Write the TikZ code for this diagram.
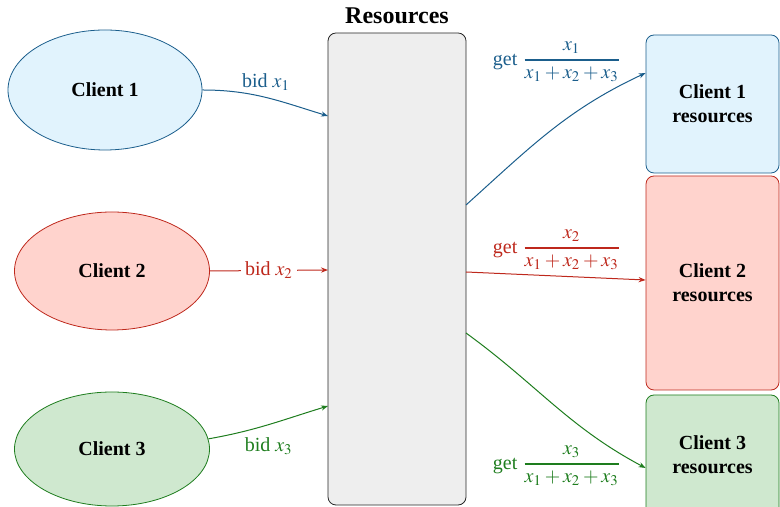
\documentclass[tikz,border=0pt]{standalone}
\usepackage{amsmath}
\usepackage{mathptmx}
\usepackage{fontspec}
\setmainfont{Liberation Serif}
\usetikzlibrary{arrows.meta,shapes.geometric}

\definecolor{blueline}{RGB}{27,94,140}
\definecolor{bluefill}{RGB}{225,243,253}
\definecolor{redline}{RGB}{190,40,28}
\definecolor{redfill}{RGB}{255,211,205}
\definecolor{greenline}{RGB}{30,125,30}
\definecolor{greenfill}{RGB}{207,232,207}
\definecolor{resfill}{RGB}{238,238,238}

\newcommand{\sharefrac}[1]{\genfrac{}{}{0.9pt}{0}{x_{#1}}{x_1+x_2+x_3}}

\begin{document}
\begin{tikzpicture}[x=0.5pt,y=0.5pt,
  client/.style={ellipse,draw=#1line,fill=#1fill,inner sep=0pt,font=\bfseries},
  share/.style={draw=#1line,fill=#1fill,rounded corners=4pt,minimum width=66.5pt,align=center,font=\bfseries},
  flow/.style={#1line,line width=0.5pt,-{Stealth[length=3.5pt,width=2.6pt]}}]
  \useasboundingbox (0,0) rectangle (780,507);
  \clip (0,0) rectangle (780,507);

  \node[client=blue,minimum width=97pt,minimum height=60pt] (c1) at (105,417) {Client 1};
  \node[client=red,minimum width=97.5pt,minimum height=59pt] (c2) at (112,236) {Client 2};
  \node[client=green,minimum width=97.5pt,minimum height=57pt] (c3) at (112,58) {Client 3};

  \node[draw=black!85,fill=resfill,rounded corners=4pt,minimum width=69pt,minimum height=236pt] (res) at (397,238) {};
  \node[font=\large\bfseries] (title) at (397,491) {Resources};

  \node[share=blue,minimum height=69pt] (r1) at (712.5,403) {Client 1\\resources};
  \node[share=red,minimum height=107pt] (r2) at (712.5,224) {Client 2\\resources};
  \node[share=green,minimum height=60pt] (r3) at (712.5,52) {Client 3\\resources};

  \coordinate (in1) at (328,391);
  \coordinate (in2) at (328,237);
  \coordinate (in3) at (328,101);
  \coordinate (out1) at (466,302);
  \coordinate (out2) at (466,235);
  \coordinate (out3) at (466,174);

  \draw[flow=blue] (c1.east) to[out=0,in=163] node[above] {bid $x_1$} (in1);
  \draw[flow=red] (c2.east) -- node[fill=white,inner sep=2pt] {bid $x_2$} (in2);
  \draw[flow=green] (c3.6) to[out=10,in=197] node[below=3pt] {bid $x_3$} (in3);

  \draw[flow=blue] (out1) to[out=42,in=205] (r1.west |- 0,434);
  \draw[flow=red] (out2) -- (r2.west |- 0,227);
  \draw[flow=green] (out3) to[out=-36,in=152] (r3.west |- 0,39);

  \node[blueline] (g1) at (557,445) {get $\sharefrac{1}$};
  \node[redline] (g2) at (557,257) {get $\sharefrac{2}$};
  \node[greenline] (g3) at (557,41) {get $\sharefrac{3}$};
\end{tikzpicture}
\end{document}
